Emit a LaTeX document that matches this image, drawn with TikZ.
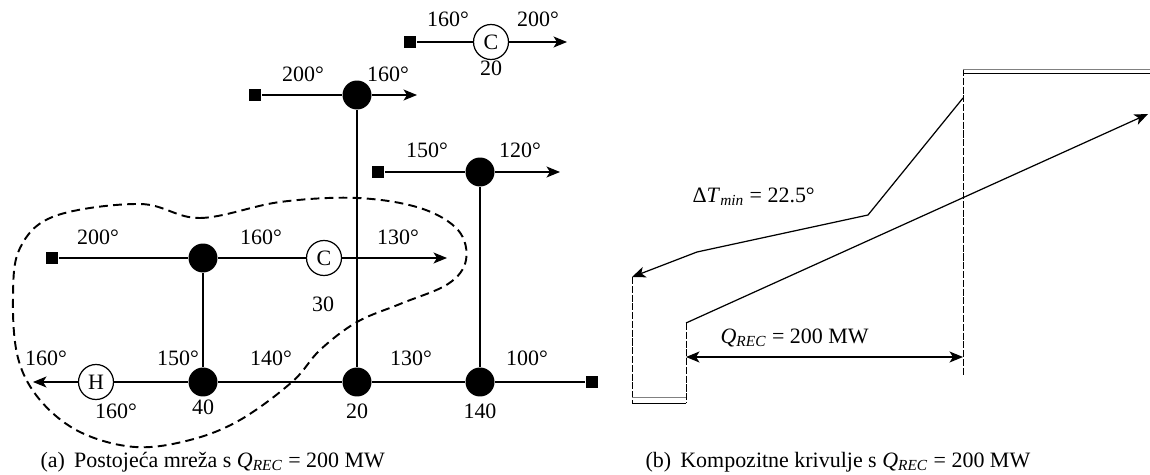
\documentclass[tikz,border=0pt]{standalone}
\usepackage{fontspec}
\setmainfont{Liberation Serif}
\usetikzlibrary{arrows.meta}
\begin{document}
\begin{tikzpicture}[x=0.02cm,y=0.02cm,line width=0.7pt,
  mix/.style={circle,fill=black,inner sep=0pt,minimum size=0.58cm},
  unit/.style={circle,draw,fill=white,inner sep=0pt,minimum size=0.7cm,font=\fontsize{12.5}{14}\selectfont},
  src/.style={rectangle,fill=black,inner sep=0pt,minimum size=0.25cm},
  flow/.style={-{Stealth[length=0.27cm,width=0.22cm,inset=0.07cm]}},
  both/.style={{Stealth[length=0.27cm,width=0.22cm,inset=0.07cm]}-{Stealth[length=0.27cm,width=0.22cm,inset=0.07cm]}},
  lbl/.style={font=\fontsize{12.5}{14}\selectfont,inner sep=0pt},
  guide/.style={line width=0.5pt,dash pattern=on 4pt off 1pt},
  boundary/.style={line width=1.1pt,dash pattern=on 5pt off 3pt}]
\useasboundingbox (0,0) rectangle (1150,474);
% (a) network
\node[src] (s1) at (410,432) {};
\node[unit] (c1) at (491,432) {C};
\coordinate (e1) at (567,432);
\draw (s1) -- (c1);
\draw[flow] (c1) -- (e1);
\node[lbl] at (448,455) {160°};
\node[lbl] at (538,455) {200°};
\node[lbl] at (491,406) {20};
\node[src] (s2) at (255,379) {};
\node[mix] (m2) at (357,379) {};
\coordinate (e2) at (417,379);
\draw (s2) -- (m2);
\draw[flow] (m2) -- (e2);
\node[lbl] at (303,400) {200°};
\node[lbl] at (388,400) {160°};
\node[src] (s3) at (378,302) {};
\node[mix] (m3) at (480,302) {};
\coordinate (e3) at (560,302);
\draw (s3) -- (m3);
\draw[flow] (m3) -- (e3);
\node[lbl] at (427,324) {150°};
\node[lbl] at (520,324) {120°};
\node[src] (s4) at (52,216) {};
\node[mix] (m4) at (203,216) {};
\node[unit] (c2) at (324,216) {C};
\coordinate (e4) at (447,216);
\draw (s4) -- (m4) -- (c2);
\draw[flow] (c2) -- (e4);
\node[lbl] at (98,237) {200°};
\node[lbl] at (261,237) {160°};
\node[lbl] at (398,237) {130°};
\node[lbl] at (323,170) {30};
\node[src] (s5) at (592,92) {};
\node[mix] (m7) at (480,92) {};
\node[mix] (m6) at (357,92) {};
\node[mix] (m5) at (203,92) {};
\node[unit] (h1) at (96,92) {H};
\coordinate (e5) at (33,92);
\draw (s5) -- (m7) -- (m6) -- (m5) -- (h1);
\draw[flow] (h1) -- (e5);
\draw (m2) -- (m6);
\draw (m3) -- (m7);
\draw (m4) -- (m5);
\node[lbl] at (46,116) {160°};
\node[lbl] at (178,116) {150°};
\node[lbl] at (271,116) {140°};
\node[lbl] at (411,116) {130°};
\node[lbl] at (527,116) {100°};
\node[lbl] at (116,63) {160°};
\node[lbl] at (203,67) {40};
\node[lbl] at (357,63) {20};
\node[lbl] at (480,63) {140};
\draw[boundary] plot[smooth cycle,tension=0.6] coordinates {(140,270) (200,256) (280,272) (357,276) (420,266) (458,244) (466,214) (448,190) (400,170) (357,152) (320,124) (292,92) (240,54) (190,34) (135,27) (80,42) (40,74) (18,116) (13,176) (20,226) (55,258)};
\node[lbl,anchor=west] at (40,12) {(a)\, Postojeća mreža s \textit{Q}\textsubscript{\textit{REC}} = 200 MW};
% (b) composite curves
\coordinate (top) at (963,405);
\coordinate (pinch) at (963,117);
\coordinate (hot1) at (963,376);
\coordinate (hot2) at (868,259);
\coordinate (hot3) at (697,222);
\coordinate (hot4) at (632,197);
\coordinate (cold1) at (686,151);
\coordinate (cold2) at (1148,360);
\coordinate (low) at (686,117);
\draw[guide] (top) -- (963,99);
\draw[gray,line width=0.5pt] (top) -- (1150,405);
\draw[line width=0.5pt] (963,401) -- (1150,401);
\draw[flow] (hot1) -- (hot2) -- (hot3) -- (hot4);
\draw[guide] (hot4) -- (632,71);
\draw[guide] (cold1) -- (686,71);
\draw[gray,line width=0.5pt] (632,77) -- (686,77);
\draw[line width=0.5pt] (632,71) -- (686,71);
\draw[flow] (cold1) -- (cold2);
\draw[both] (low) -- (pinch);
\node[lbl,anchor=west] at (692,277) {Δ\textit{T}\textsubscript{\textit{min}} = 22.5°};
\node[lbl,anchor=west] at (720,136) {\textit{Q}\textsubscript{\textit{REC}} = 200 MW};
\node[lbl,anchor=west] at (645,12) {(b)\, Kompozitne krivulje s \textit{Q}\textsubscript{\textit{REC}} = 200 MW};
\end{tikzpicture}
\end{document}
